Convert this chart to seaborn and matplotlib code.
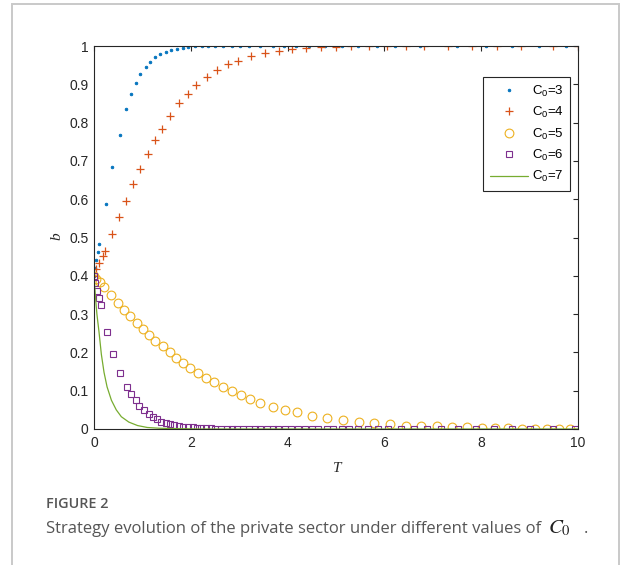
import numpy as np
import pandas as pd
import matplotlib
matplotlib.use("Agg")
import matplotlib.pyplot as plt
from matplotlib.patches import Rectangle
import seaborn as sns

# ---- solution trajectories b(T) for several values of C0 ----
T_c3 = [0, 0.02, 0.045, 0.075, 0.10, 0.24, 0.38, 0.53, 0.67, 0.76, 0.87, 0.96, 1.07,
        1.16, 1.27, 1.37, 1.48, 1.59, 1.71, 1.83, 1.95, 2.09, 2.23, 2.36, 2.50, 2.67,
        2.85, 3.02, 3.21, 3.43, 3.69, 3.93, 4.17, 4.45, 4.78, 5.13, 5.46, 5.85, 6.22,
        6.74, 7.51, 8.10, 8.63, 9.20, 9.75]
b_c3 = [0.40, 0.42, 0.441, 0.463, 0.483, 0.587, 0.685, 0.768, 0.836, 0.874, 0.904, 0.928,
        0.945, 0.959, 0.970, 0.978, 0.984, 0.989, 0.992, 0.996, 0.997, 0.999, 1.0, 1.0,
        1.0, 1.0, 1.0, 1.0, 1.0, 1.0, 1.0, 1.0, 1.0, 1.0, 1.0, 1.0, 1.0, 1.0, 1.0,
        1.0, 1.0, 1.0, 1.0, 1.0, 1.0]

T_c4 = [0, 0.04, 0.10, 0.18, 0.23, 0.365, 0.52, 0.66, 0.81, 0.96, 1.11, 1.26, 1.41, 1.58,
        1.76, 1.94, 2.11, 2.33, 2.54, 2.76, 2.98, 3.25, 3.54, 3.82, 4.10, 4.39, 4.70,
        4.99, 5.30, 5.68, 6.06, 6.44, 6.82, 7.32, 7.82, 8.32, 8.82, 9.49, 10.0]
b_c4 = [0.40, 0.417, 0.433, 0.452, 0.466, 0.509, 0.554, 0.596, 0.640, 0.679, 0.718, 0.754,
        0.784, 0.817, 0.850, 0.875, 0.897, 0.919, 0.937, 0.952, 0.961, 0.974, 0.982,
        0.987, 0.991, 0.994, 0.997, 0.998, 0.999, 1.0, 1.0, 1.0, 1.0, 1.0, 1.0, 1.0,
        1.0, 1.0, 1.0]

T_c5 = [0, 0.05, 0.12, 0.20, 0.35, 0.49, 0.61, 0.74, 0.88, 1.01, 1.14, 1.27, 1.42, 1.56,
        1.69, 1.84, 1.99, 2.15, 2.31, 2.47, 2.66, 2.85, 3.03, 3.22, 3.44, 3.70, 3.94,
        4.19, 4.50, 4.81, 5.15, 5.48, 5.79, 6.12, 6.45, 6.76, 7.08, 7.40, 7.70, 8.01,
        8.29, 8.56, 8.84, 9.11, 9.35, 9.61, 9.83]
b_c5 = [0.40, 0.392, 0.384, 0.370, 0.349, 0.330, 0.312, 0.295, 0.278, 0.261, 0.245, 0.231,
        0.216, 0.201, 0.186, 0.172, 0.160, 0.146, 0.134, 0.122, 0.110, 0.098, 0.088,
        0.079, 0.069, 0.058, 0.050, 0.044, 0.035, 0.028, 0.023, 0.019, 0.015, 0.012,
        0.009, 0.008, 0.007, 0.005, 0.004, 0.003, 0.003, 0.002, 0.001, 0.001, 0.001,
        0.0, 0.0]

T_c6 = [0, 0.02, 0.07, 0.10, 0.14, 0.27, 0.40, 0.545, 0.69, 0.77, 0.86, 0.94, 1.03, 1.13,
        1.21, 1.30, 1.39, 1.48, 1.57, 1.66, 1.75, 1.845, 1.94, 2.04, 2.13, 2.22, 2.31,
        2.41, 2.51, 2.62, 2.74, 2.86, 2.96, 3.08, 3.20, 3.33, 3.44, 3.57, 3.69, 3.81,
        3.95, 4.08, 4.22, 4.36, 4.50, 4.63, 4.81, 4.94, 5.12, 5.27, 5.46, 5.67, 5.87,
        6.08, 6.34, 6.62, 6.89, 7.17, 7.53, 7.89, 8.27, 8.63, 9.01, 9.49, 9.94]
b_c6 = [0.40, 0.38, 0.36, 0.341, 0.324, 0.254, 0.195, 0.147, 0.110, 0.091, 0.075, 0.061,
        0.050, 0.040, 0.032, 0.025, 0.019, 0.016, 0.012, 0.010, 0.008, 0.006, 0.005,
        0.004, 0.003, 0.003, 0.002, 0.002, 0.001, 0.001, 0.001, 0.001, 0.0, 0.0, 0.0,
        0.0, 0.0, 0.0, 0.0, 0.0, 0.0, 0.0, 0.0, 0.0, 0.0, 0.0, 0.0, 0.0, 0.0, 0.0,
        0.0, 0.0, 0.0, 0.0, 0.0, 0.0, 0.0, 0.0, 0.0, 0.0, 0.0, 0.0, 0.0, 0.0, 0.0]

T_c7 = [0, 0.03, 0.06, 0.103, 0.152, 0.207, 0.27, 0.36, 0.46, 0.565, 0.72, 0.90, 1.10,
        1.35, 1.70, 2.20, 3.0, 4.0, 5.0, 6.0, 7.0, 8.0, 9.0, 10.0]
b_c7 = [0.40, 0.345, 0.300, 0.254, 0.195, 0.148, 0.110, 0.075, 0.050, 0.032, 0.018, 0.009,
        0.004, 0.002, 0.001, 0.0, 0.0, 0.0, 0.0, 0.0, 0.0, 0.0, 0.0, 0.0]

legend_labels = ["C$_0$=3", "C$_0$=4", "C$_0$=5", "C$_0$=6", "C$_0$=7"]
x_ticks = [0, 2, 4, 6, 8, 10]
y_ticks = [0, 0.1, 0.2, 0.3, 0.4, 0.5, 0.6, 0.7, 0.8, 0.9, 1]
y_tick_labels = ["0", "0.1", "0.2", "0.3", "0.4", "0.5", "0.6", "0.7", "0.8", "0.9", "1"]
fig_label = "FIGURE 2"
caption = "Strategy evolution of the private sector under different values of"

# ---- style ----
sns.set_theme(style="white")
axis_col = "#262626"
plt.rcParams.update({
    "font.family": ["Liberation Sans", "DejaVu Sans"],
    "mathtext.fontset": "custom",
    "mathtext.rm": "Liberation Sans",
    "mathtext.it": "Liberation Sans:italic",
    "xtick.direction": "in",
    "ytick.direction": "in",
    "xtick.top": True,
    "ytick.right": True,
    "axes.edgecolor": axis_col,
    "axes.linewidth": 0.8,
    "xtick.color": axis_col,
    "ytick.color": axis_col,
    "xtick.major.size": 3.6,
    "ytick.major.size": 3.6,
    "xtick.major.width": 0.8,
    "ytick.major.width": 0.8,
    "xtick.major.pad": 5.0,
    "ytick.major.pad": 4.0,
    "xtick.labelsize": 10,
    "ytick.labelsize": 10,
})

W, H = 625, 565
fig = plt.figure(figsize=(W / 100, H / 100), dpi=100)
fig.patch.set_facecolor("white")
ax = fig.add_axes([94 / W, 1 - 429 / H, 484 / W, 383 / H])

series = [
    (T_c3, b_c3, dict(marker=".", markersize=3.8, color="#0072BD",
                      markerfacecolor="#0072BD", markeredgecolor="#0072BD",
                      markeredgewidth=0.6, linestyle="none")),
    (T_c4, b_c4, dict(marker="+", markersize=6.4, color="#D95319",
                      markerfacecolor="none", markeredgecolor="#D95319",
                      markeredgewidth=0.9, linestyle="none")),
    (T_c5, b_c5, dict(marker="o", markersize=6.3, color="#EDB120",
                      markerfacecolor="none", markeredgecolor="#EDB120",
                      markeredgewidth=0.8, linestyle="none")),
    (T_c6, b_c6, dict(marker="s", markersize=4.8, color="#7E2F8E",
                      markerfacecolor="none", markeredgecolor="#7E2F8E",
                      markeredgewidth=0.8, linestyle="none")),
    (T_c7, b_c7, dict(color="#77AC30", linewidth=0.9, linestyle="-")),
]

for (tv, bv, kw), lab in zip(series, legend_labels):
    df = pd.DataFrame({"T": tv, "b": bv})
    sns.lineplot(data=df, x="T", y="b", ax=ax, estimator=None, errorbar=None,
                 sort=False, label=lab, **kw)

ax.set_xlim(0, 10)
ax.set_ylim(0, 1)
ax.set_xticks(x_ticks)
ax.set_xticklabels([str(v) for v in x_ticks])
ax.set_yticks(y_ticks)
ax.set_yticklabels(y_tick_labels)
for sp in ax.spines.values():
    sp.set_visible(True)
    sp.set_color(axis_col)
ax.tick_params(labelcolor=axis_col)

serif_it = dict(family=["Liberation Serif", "DejaVu Serif"], style="italic",
                size=11, color=axis_col)
ax.set_xlabel("T", **serif_it)
ax.set_ylabel("b", rotation=90, **serif_it)
ax.xaxis.set_label_coords((337 - 94) / 484, (429 - 468) / 383)
ax.yaxis.set_label_coords((57 - 94) / 484, (429 - 236) / 383)
ax.xaxis.label.set_va("center")
ax.yaxis.label.set_va("center")

handles, labels = ax.get_legend_handles_labels()
leg = ax.legend(handles, labels, loc="upper left",
                bbox_to_anchor=((483 - 94) / 484, (429 - 77) / 383),
                borderaxespad=0, fontsize=9.5, frameon=True, fancybox=False,
                framealpha=1, edgecolor=axis_col, handlelength=2.9,
                handletextpad=0.3, borderpad=0.5, labelspacing=0.48,
                numpoints=1)
leg.get_frame().set_linewidth(0.8)
for t in leg.get_texts():
    t.set_color("black")

# page frame around the figure and its caption
fig.patches.append(Rectangle((11.7 / W, -0.05), (619 - 11.7) / W, 1.05 - 4 / H,
                             transform=fig.transFigure, fill=False,
                             edgecolor="#c9c9c9", linewidth=1.4))

cap_col = "#555555"
t1 = fig.text(45.7 / W, 1 - 508.3 / H, fig_label, ha="left", va="baseline",
              family=["Open Sans", "DejaVu Sans"], weight="semibold",
              size=10.5, color=cap_col)
t2 = fig.text(45.7 / W, 1 - 533.3 / H, caption, ha="left", va="baseline",
              family=["Open Sans", "DejaVu Sans"], weight="normal",
              size=12, color=cap_col)

# fit caption widths to their column widths
fig.canvas.draw()
r = fig.canvas.get_renderer()
w1 = t1.get_window_extent(r).width
t1.set_size(t1.get_size() * (108.3 - 45.7) / w1)
w2 = t2.get_window_extent(r).width
t2.set_size(t2.get_size() * (540 - 45.7) / w2)

fig.text(548 / W, 1 - 533.3 / H, "$C_0$", ha="left", va="baseline",
         math_fontfamily="stix", size=15, color="#222222")
fig.text(584 / W, 1 - 533.3 / H, ".", ha="left", va="baseline",
         family=["Open Sans", "DejaVu Sans"], size=12, color=cap_col)

fig.savefig("out.png", dpi=100, facecolor="white")
